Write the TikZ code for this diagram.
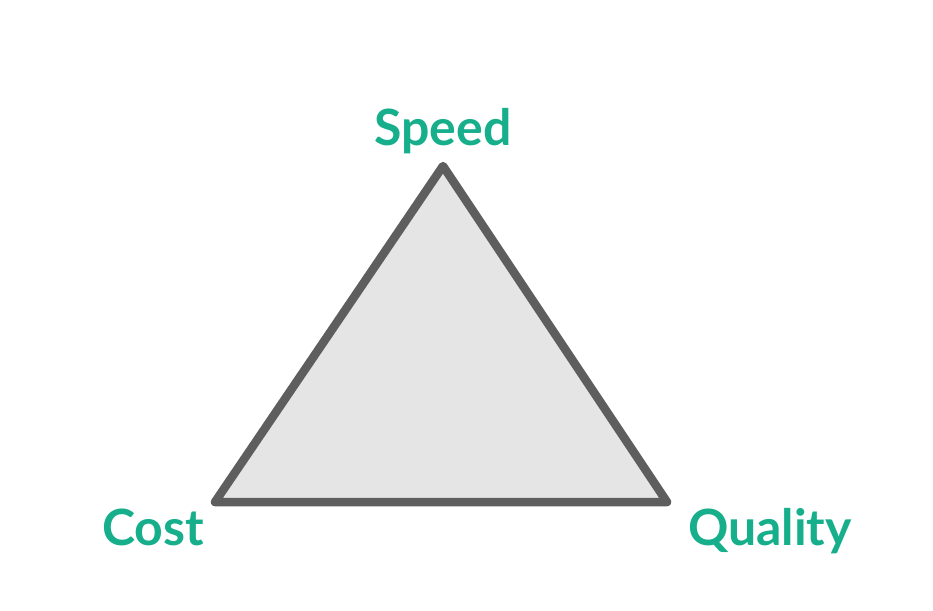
\documentclass[tikz,border=0pt]{standalone}
\usepackage{fontspec}
\setmainfont{Lato}
\usetikzlibrary{positioning}
\definecolor{teal}{HTML}{16AE8B}
\definecolor{edge}{HTML}{5E5E5E}
\definecolor{face}{HTML}{E5E5E5}
\tikzset{
  corner/.style={text=teal,font=\bfseries\fontsize{50}{54}\selectfont,anchor=base,inner sep=0pt},
  side/.style={draw=edge,fill=face,line width=8.5pt,line join=round}
}
\begin{document}
\begin{tikzpicture}[x=1pt,y=-1pt]
  \useasboundingbox (0,0) rectangle (933,610);
  \coordinate (top) at (443,166);
  \coordinate (left) at (215,502);
  \coordinate (right) at (667,502);

  \draw[side] (top) -- (right) -- (left) -- cycle;

  \node[corner] (speed) at (443,145) {Speed};
  \node[corner] (cost) at (153,545) {Cost};
  \node[corner] (quality) at (770,545) {Quality};
\end{tikzpicture}
\end{document}
